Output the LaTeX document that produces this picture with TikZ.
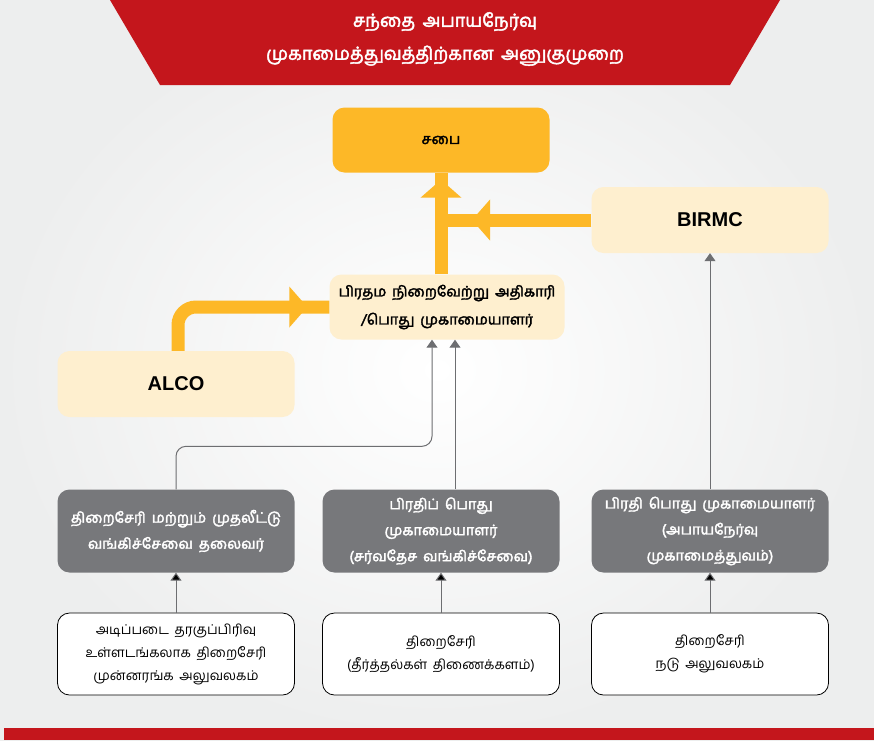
\documentclass[tikz,border=0pt]{standalone}
\usepackage{fontspec}
\setmainfont{Liberation Sans}
\newfontfamily\tamil[Script=Tamil,WordSpace=1.7]{Hind Madurai}
\newfontfamily\tamilbold[Script=Tamil,WordSpace=1.7,FakeBold=2.5]{Hind Madurai}
\usetikzlibrary{arrows.meta,positioning,decorations.markings}
\definecolor{brandred}{HTML}{C4161C}
\definecolor{boardorange}{HTML}{FDB827}
\definecolor{cream}{HTML}{FEEFCF}
\definecolor{boxgray}{HTML}{77787B}
\definecolor{linegray}{HTML}{6D6E71}
\definecolor{paper}{HTML}{EDEEEE}

\begin{document}
\begin{tikzpicture}[x=1pt,y=-1pt,>={Triangle[width=11pt,length=8pt]},node distance=123pt,
  box/.style={rounded corners=12pt,minimum width=237pt,minimum height=66pt,align=center,font=\tamilbold\fontsize{14.5}{28}\selectfont},
  board/.style={box,fill=boardorange,minimum width=217pt,minimum height=65pt},
  committee/.style={box,fill=cream},
  head/.style={box,fill=boxgray,text=white,minimum height=83pt,font=\tamilbold\fontsize{14.5}{26}\selectfont},
  unit/.style={box,draw=black,fill=white,thick,minimum height=82pt,font=\tamil\fontsize{13.5}{23}\selectfont},
  link/.style={draw=linegray,line width=1pt,->},
  flow/.style={draw=boardorange,line width=13pt},
  midtip/.style={postaction={decorate},decoration={markings,
      mark=at position #1 with {\arrow{Triangle[width=40pt,length=18pt]}}}}]
  \useasboundingbox (0,0) rectangle (874,740);
  \shade[inner color=white,outer color=paper] (0,0) rectangle (874,740);
  % banner
  \fill[brandred] (110,0) -- (780,0) -- (730,85) -- (160,85) -- cycle;
  \fill[brandred] (4,728) rectangle (874,740);
  \node (title) [text=white,align=center,font=\tamilbold\fontsize{18}{33}\selectfont]
      at (445,39) {சந்தை அபாயநேர்வு\\முகாமைத்துவத்திற்கான அனுகுமுறை};

  \node[board]     (sabai)   at (441,140) {சபை};
  \node[committee] (birmc)   at (710,220) {\rmfamily\bfseries\fontsize{20}{24}\selectfont BIRMC};
  \node[committee,minimum width=235pt,minimum height=65pt] (ceo) at (447,307)
      {பிரதம நிறைவேற்று அதிகாரி\\/பொது முகாமையாளர்};
  \node[committee] (alco)    at (176,384) {\rmfamily\bfseries\fontsize{20}{24}\selectfont ALCO};

  \node[head] (treasury) at (176,531) {திறைசேரி மற்றும் முதலீட்டு\\வங்கிச்சேவை தலைவர்};
  \node[head] (dgmib)    at (441,531) {பிரதிப் பொது\\முகாமையாளர்\\(சர்வதேச வங்கிச்சேவை)};
  \node[head] (dgmrisk)  at (710,531) {பிரதி பொது முகாமையாளர்\\(அபாயநேர்வு\\முகாமைத்துவம்)};

  \node[unit] (front)  [below of=treasury] {அடிப்படை தரகுப்பிரிவு\\உள்ளடங்கலாக திறைசேரி\\முன்னரங்க அலுவலகம்};
  \node[unit] (back)   [below of=dgmib]    {திறைசேரி\\(தீர்த்தல்கள் திணைக்களம்)};
  \node[unit] (middle) [below of=dgmrisk]  {திறைசேரி\\நடு அலுவலகம்};

  % orange reporting lines
  \coordinate (join) at (sabai.south |- birmc.west);
  \path[flow,midtip=-7pt] (sabai.south |- ceo.north) -- (sabai.south);
  \path[flow,midtip=-31pt] (birmc.west) -- (join);
  \path[flow,midtip=-22pt,rounded corners=18pt] ([xshift=2pt]alco.north) |- (ceo.west);

  % grey reporting lines
  \draw[link,rounded corners=10pt] (treasury.north) -- ++(0,-43) -| ([xshift=-15pt]ceo.south);
  \draw[link] ([xshift=8pt]ceo.south |- dgmib.north) -- ([xshift=8pt]ceo.south);
  \draw[link] (dgmrisk.north) -- (birmc.south);
  \draw[link] (front) edge (treasury)
              (back) edge (dgmib)
              (middle) edge (dgmrisk);
\end{tikzpicture}
\end{document}
